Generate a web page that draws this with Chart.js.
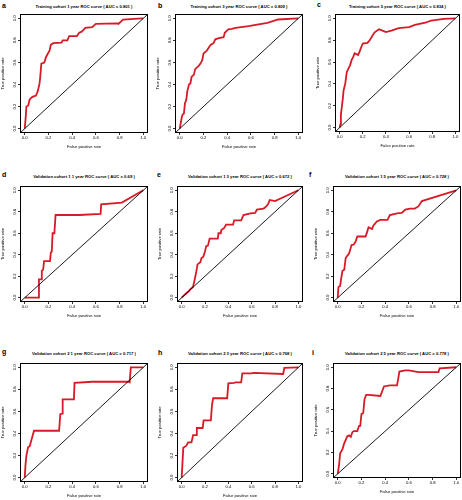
<!DOCTYPE html>
<html>
<head>
<meta charset="utf-8">
<script src="https://cdn.jsdelivr.net/npm/chart.js@4.4.0/dist/chart.umd.min.js"></script>
<style>
  body { margin: 0; background: #fff; width: 462px; height: 500px; position: relative; overflow: hidden;
         font-family: "Liberation Sans", Arial, sans-serif; }
  .panel { position: absolute; }
  .letter { position: absolute; font-weight: bold; font-size: 7px; line-height: 1; }
  .title { position: absolute; font-weight: bold; font-size: 4.2px; white-space: nowrap;
           transform: translate(-50%, -50%); line-height: 1; }
</style>
</head>
<body>
<script>
"use strict";

// ---- data ----
var letters = ['a', 'b', 'c', 'd', 'e', 'f', 'g', 'h', 'i'];
var titles = [
    'Training cohort 1 year ROC curve ( AUC =  0.801 )',
    'Training cohort 3 year ROC curve ( AUC =  0.809 )',
    'Training cohort 5 year ROC curve ( AUC =  0.834 )',
    'Validation cohort 1 1 year ROC curve ( AUC =  0.69 )',
    'Validation cohort 1 3 year ROC curve ( AUC =  0.672 )',
    'Validation cohort 1 5 year ROC curve ( AUC =  0.728 )',
    'Validation cohort 2 1 year ROC curve ( AUC =  0.717 )',
    'Validation cohort 2 3 year ROC curve ( AUC =  0.768 )',
    'Validation cohort 2 5 year ROC curve ( AUC =  0.778 )'
];
var tickVals = [0, 0.2, 0.4, 0.6, 0.8, 1.0];
var refLine = [-0.04, 1.04];

var fprA = [0, 0.008, 0.014, 0.03, 0.04, 0.055, 0.07, 0.095, 0.11, 0.125, 0.13, 0.14, 0.165, 0.18, 0.195, 0.21, 0.22, 0.24, 0.31, 0.32, 0.36, 0.375, 0.44, 0.46, 0.48, 0.5, 0.51, 0.57, 0.6, 0.78, 0.79, 0.83, 0.99, 1];
var tprA = [0, 0.1, 0.2, 0.21, 0.26, 0.28, 0.29, 0.3, 0.34, 0.41, 0.46, 0.59, 0.6, 0.65, 0.68, 0.71, 0.76, 0.775, 0.78, 0.8, 0.8, 0.84, 0.84, 0.87, 0.88, 0.9, 0.915, 0.92, 0.95, 0.955, 0.95, 0.99, 1, 1];

var fprB = [0, 0.017, 0.025, 0.035, 0.044, 0.055, 0.064, 0.078, 0.09, 0.1, 0.12, 0.13, 0.15, 0.16, 0.175, 0.19, 0.2, 0.23, 0.26, 0.285, 0.3, 0.33, 0.37, 0.38, 0.41, 0.44, 0.47, 0.58, 0.69, 0.74, 0.83, 1];
var tprB = [0, 0.1, 0.13, 0.135, 0.23, 0.26, 0.34, 0.4, 0.41, 0.47, 0.49, 0.54, 0.56, 0.57, 0.59, 0.62, 0.68, 0.71, 0.76, 0.775, 0.81, 0.82, 0.83, 0.87, 0.9, 0.905, 0.915, 0.93, 0.95, 0.96, 0.99, 1];

var fprC = [0, 0.006, 0.011, 0.02, 0.028, 0.034, 0.048, 0.062, 0.076, 0.09, 0.104, 0.118, 0.13, 0.16, 0.174, 0.188, 0.2, 0.24, 0.26, 0.3, 0.34, 0.355, 0.4, 0.455, 0.51, 0.6, 0.65, 0.74, 0.79, 0.9, 1];
var tprC = [0, 0.03, 0.12, 0.2, 0.27, 0.34, 0.4, 0.51, 0.54, 0.57, 0.62, 0.65, 0.68, 0.665, 0.7, 0.74, 0.77, 0.775, 0.8, 0.87, 0.9, 0.895, 0.875, 0.89, 0.91, 0.92, 0.94, 0.96, 0.98, 0.995, 1];

var fprD = [0, 0.116, 0.12, 0.14, 0.144, 0.155, 0.163, 0.213, 0.22, 0.228, 0.235, 0.25, 0.26, 0.46, 0.64, 0.645, 0.82, 1];
var tprD = [0, 0, 0.17, 0.17, 0.25, 0.26, 0.34, 0.34, 0.42, 0.43, 0.6, 0.6, 0.77, 0.77, 0.78, 0.87, 0.885, 1];

var fprE = [0, 0.033, 0.06, 0.075, 0.097, 0.11, 0.125, 0.136, 0.16, 0.17, 0.185, 0.2, 0.21, 0.225, 0.24, 0.31, 0.315, 0.335, 0.34, 0.365, 0.38, 0.44, 0.45, 0.51, 0.53, 0.59, 0.63, 0.645, 0.7, 0.715, 0.74, 0.755, 0.8, 1];
var tprE = [0, 0.035, 0.06, 0.08, 0.1, 0.16, 0.24, 0.31, 0.33, 0.37, 0.38, 0.43, 0.48, 0.485, 0.55, 0.55, 0.6, 0.6, 0.63, 0.65, 0.68, 0.68, 0.72, 0.72, 0.77, 0.785, 0.79, 0.82, 0.83, 0.84, 0.87, 0.91, 0.9, 1];

var fprF = [0, 0.006, 0.02, 0.028, 0.04, 0.055, 0.067, 0.08, 0.095, 0.117, 0.135, 0.15, 0.165, 0.235, 0.25, 0.26, 0.29, 0.3, 0.33, 0.36, 0.42, 0.44, 0.5, 0.54, 0.57, 0.61, 0.65, 0.68, 0.71, 1];
var tprF = [0, 0.1, 0.11, 0.17, 0.25, 0.26, 0.37, 0.39, 0.41, 0.49, 0.495, 0.52, 0.57, 0.57, 0.62, 0.655, 0.64, 0.67, 0.71, 0.725, 0.725, 0.77, 0.785, 0.79, 0.82, 0.83, 0.83, 0.85, 0.9, 1];

var fprG = [0, 0.006, 0.014, 0.028, 0.042, 0.078, 0.29, 0.3, 0.315, 0.32, 0.415, 0.42, 0.57, 0.875, 0.885, 0.895, 1];
var tprG = [0, 0.11, 0.2, 0.275, 0.285, 0.425, 0.425, 0.575, 0.58, 0.71, 0.71, 0.86, 0.87, 0.87, 0.865, 1, 1];

var fprH = [0, 0.014, 0.04, 0.056, 0.084, 0.098, 0.126, 0.13, 0.18, 0.188, 0.25, 0.26, 0.27, 0.39, 0.4, 0.45, 0.46, 0.51, 0.52, 0.6, 0.62, 0.87, 0.88, 1];
var tprH = [0, 0.27, 0.29, 0.32, 0.32, 0.385, 0.385, 0.45, 0.45, 0.52, 0.52, 0.66, 0.72, 0.72, 0.855, 0.86, 0.865, 0.865, 0.945, 0.945, 0.95, 0.94, 0.995, 1];

var fprI = [0, 0.011, 0.02, 0.04, 0.053, 0.08, 0.095, 0.11, 0.123, 0.135, 0.165, 0.18, 0.19, 0.2, 0.215, 0.226, 0.24, 0.26, 0.36, 0.39, 0.44, 0.5, 0.51, 0.52, 0.57, 0.6, 0.68, 0.85, 0.86, 1];
var tprI = [0, 0.08, 0.19, 0.23, 0.28, 0.35, 0.36, 0.345, 0.39, 0.4, 0.4, 0.45, 0.45, 0.56, 0.57, 0.7, 0.74, 0.74, 0.73, 0.82, 0.83, 0.83, 0.89, 0.96, 0.97, 0.97, 0.955, 0.955, 0.99, 1];

var fprs = [fprA, fprB, fprC, fprD, fprE, fprF, fprG, fprH, fprI];
var tprs = [tprA, tprB, tprC, tprD, tprE, tprF, tprG, tprH, tprI];

// ---- layout: plot box [left, top, right, bottom] per panel ----
var boxes = [
    [20, 14, 148, 133], [175, 14, 303, 133], [335, 14, 460, 132],
    [20, 186, 148, 302], [177, 186, 303, 302], [333, 186, 461, 302],
    [20, 363, 148, 482], [177, 363, 303, 482], [333, 363, 461, 478]
];
var titleY = [7, 177, 354];
var letterPos = [[2, 2], [158, 2], [317, 1], [2, 171], [157, 171], [309, 171], [2, 348], [158, 349], [312, 349]];

var RED = '#d81a26';
var Y_W = 20, X_H = 17, PAD_T = 3, PAD_R = 2;

var framePlugin = {
    id: 'frame',
    afterDraw: function(chart) {
        var a = chart.chartArea, ctx = chart.ctx;
        ctx.save();
        ctx.strokeStyle = '#000';
        ctx.lineWidth = 1;
        ctx.strokeRect(Math.round(a.left) + 0.5, Math.round(a.top) + 0.5,
                       Math.round(a.right - a.left) - 1, Math.round(a.bottom - a.top) - 1);
        ctx.restore();
    }
};

function fmt(v) { return Number(v).toFixed(1); }

function axis(titleText, vertical) {
    return {
        type: 'linear',
        min: -0.04,
        max: 1.04,
        afterBuildTicks: function(s) { s.ticks = tickVals.map(function(v) { return { value: v }; }); },
        afterFit: function(s) { if (vertical) { s.width = Y_W; } else { s.height = X_H; } },
        ticks: {
            font: { size: 4.2, family: '"Liberation Sans", Arial, sans-serif' },
            color: '#000',
            padding: vertical ? 0.3 : 0.5,
            minRotation: vertical ? 90 : 0,
            maxRotation: vertical ? 90 : 0,
            crossAlign: vertical ? 'center' : 'near',
            autoSkip: false,
            callback: fmt
        },
        grid: { drawOnChartArea: false, drawTicks: true, tickLength: 2, color: '#000', lineWidth: 0.8 },
        border: { display: false },
        title: {
            display: true,
            text: titleText,
            color: '#000',
            font: { size: 4.2, family: '"Liberation Sans", Arial, sans-serif' },
            padding: vertical ? { top: 0.8, bottom: 0 } : { top: 0, bottom: 0.5 }
        }
    };
}

function makePanel(i) {
    var b = boxes[i];
    var w = b[2] - b[0] + Y_W + PAD_R;
    var h = b[3] - b[1] + X_H + PAD_T;
    var div = document.createElement('div');
    div.className = 'panel';
    div.style.left = (b[0] - Y_W) + 'px';
    div.style.top = (b[1] - PAD_T) + 'px';
    var canvas = document.createElement('canvas');
    canvas.width = w;
    canvas.height = h;
    canvas.style.width = w + 'px';
    canvas.style.height = h + 'px';
    div.appendChild(canvas);
    document.body.appendChild(div);

    var t = document.createElement('div');
    t.className = 'title';
    t.textContent = titles[i];
    t.style.left = ((b[0] + b[2]) / 2) + 'px';
    t.style.top = titleY[Math.floor(i / 3)] + 'px';
    document.body.appendChild(t);

    var l = document.createElement('div');
    l.className = 'letter';
    l.textContent = letters[i];
    l.style.left = letterPos[i][0] + 'px';
    l.style.top = letterPos[i][1] + 'px';
    document.body.appendChild(l);

    var fpr = fprs[i], tpr = tprs[i];
    new Chart(canvas, {
        type: 'line',
        data: {
            datasets: [{
                data: refLine.map(function(v) { return { x: v, y: v }; }),
                borderColor: '#000',
                borderWidth: 0.9,
                pointRadius: 0
            }, {
                data: fpr.map(function(x, k) { return { x: x, y: tpr[k] }; }),
                borderColor: RED,
                borderWidth: 1.8,
                pointRadius: 0,
                tension: 0
            }]
        },
        options: {
            responsive: false,
            animation: false,
            events: [],
            layout: { padding: { top: PAD_T, right: PAD_R, left: 0, bottom: 0 } },
            plugins: { legend: { display: false }, tooltip: { enabled: false } },
            scales: {
                x: axis('False positive rate', false),
                y: axis('True positive rate', true)
            }
        },
        plugins: [framePlugin]
    });
}

for (var i = 0; i < 9; i++) {
    makePanel(i);
}
</script>
</body>
</html>
